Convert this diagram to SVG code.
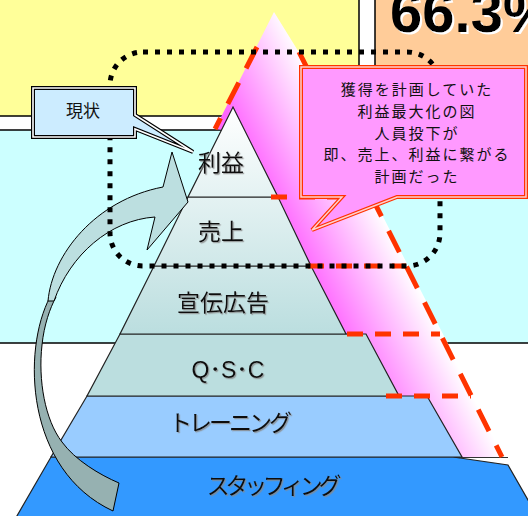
<svg xmlns="http://www.w3.org/2000/svg" width="528" height="516" viewBox="0 0 528 516">
<defs>
<style>
.bg{stroke:#000;stroke-width:1.5}
.layer{stroke:#222;stroke-width:1.2}
.lbl{font-family:"Liberation Sans","Noto Sans CJK JP",sans-serif;font-size:23px;fill:#111;text-anchor:middle;filter:url(#shadow)}
.red{fill:none;stroke:#FF3300;stroke-width:5}
.redh{stroke-dasharray:16 12}
.reds{stroke-dasharray:24 16}
.dots{fill:none;stroke:#000;stroke-width:5;stroke-dasharray:5 7}
.ctext{font-family:"Noto Sans CJK JP",sans-serif;font-size:17px;fill:#111;text-anchor:middle}
.ptext{font-family:"Noto Sans CJK JP",sans-serif;font-size:15px;letter-spacing:2px;fill:#111;text-anchor:middle}
.arrow{stroke:#000;stroke-width:1}
</style>
<linearGradient id="pink" gradientUnits="userSpaceOnUse" x1="170" y1="0" x2="254" y2="-42">
<stop offset="0" stop-color="#FF66FF"/>
<stop offset="1" stop-color="#FFFFFF"/>
</linearGradient>
<linearGradient id="pyr" gradientUnits="userSpaceOnUse" x1="0" y1="107" x2="0" y2="334">
<stop offset="0" stop-color="#FFFFFF"/>
<stop offset="1" stop-color="#BBDEDF"/>
</linearGradient>
<filter id="shadow" x="-10%" y="-20%" width="130%" height="150%">
<feDropShadow dx="1.2" dy="1.2" stdDeviation="0.4" flood-color="#888" flood-opacity="0.8"/>
</filter>
<filter id="wshadow" x="-5%" y="-10%" width="120%" height="130%">
<feDropShadow dx="2" dy="2" stdDeviation="0" flood-color="#FFFFFF"/>
</filter>
</defs>

<g id="background">
<rect x="-2" y="-2" width="361" height="118" fill="#FFFF99" class="bg"/>
<rect x="375" y="-2" width="160" height="125" fill="#FFCC99" class="bg"/>
<text x="390" y="32" font-family="'Liberation Sans',Arial,sans-serif" font-weight="bold" font-size="58" fill="#000" filter="url(#wshadow)">66.3%</text>
<rect x="-2" y="130" width="535" height="213" fill="#CCFFFF" class="bg"/>
</g>

<g id="plan-shape">
<polygon points="274,12 215,129 223,130 268,197 302,266 336,334 390,396 452,457.5 506,457.5 300,54" fill="url(#pink)"/>
<line x1="452" y1="457.5" x2="508" y2="457.5" stroke="#333" stroke-width="1"/>
</g>

<g id="pyramid">
<g id="layer-staffing">
<polygon points="51,457 453,457 508,465 540,521 14,521" fill="#3399FF" class="layer"/>
<text class="lbl" x="272" y="494" letter-spacing="-4.3">スタッフィング</text>
</g>
<g id="layer-training">
<polygon points="87,396 427,396 462,457 51,457" fill="#99CCFF" class="layer"/>
<text class="lbl" x="229" y="431" letter-spacing="-3">トレーニング</text>
</g>
<g id="layer-qsc">
<polygon points="120,334 366,334 399,396 87,396" fill="#BBDEDF" class="layer"/>
<text class="lbl" x="228" y="378">Q･S･C</text>
</g>
<g id="layer-ad">
<polygon points="154,266 311,266 346,334 120,334" fill="url(#pyr)" class="layer"/>
<text class="lbl" x="223" y="311">宣伝広告</text>
</g>
<g id="layer-sales">
<polygon points="188,197 278,197 311,266 154,266" fill="url(#pyr)" class="layer"/>
<text class="lbl" x="221" y="240">売上</text>
</g>
<g id="layer-profit">
<polygon points="233,107 278,197 188,197" fill="url(#pyr)" class="layer"/>
<text class="lbl" x="221" y="171">利益</text>
</g>
</g>

<g id="connectors">
<g id="plan-dashes">
<line class="red reds" x1="257" y1="47" x2="215" y2="129"/>
<line class="red reds" x1="299" y1="52" x2="502" y2="457"/>
<line class="red redh" x1="271" y1="197" x2="372" y2="197"/>
<line class="red redh" x1="308" y1="266" x2="406" y2="266"/>
<line class="red redh" x1="347" y1="334" x2="440" y2="334"/>
<line class="red redh" x1="386" y1="396" x2="471" y2="396"/>
</g>
<g id="curved-arrow">
<path class="arrow" d="M50,297 C22,350 25,470 113,511 L119,483 C100,475 75,460 62,442 C45,420 38,380 42,345 C44,325 50,308 56,297 Z" fill="#96B1B1"/>
<path class="arrow" d="M48,301 C52,255 95,200 163,187 L172,152 L188,202 L147,250 L155,217 C110,220 70,255 54,301 Z" fill="#BCDFE0"/>
</g>
<rect id="current-frame" class="dots" x="110" y="52" width="330" height="214" rx="33"/>
</g>

<g id="callout-current">
<path d="M33,88 H135 V115 L193,152 L135,129 V137 H33 Z" fill="#CCECFF" stroke="#000" stroke-width="4"/>
<path d="M33,88 H135 V115 L193,152 L135,129 V137 H33 Z" fill="none" stroke="#FFFFFF" stroke-width="1.6"/>
<text class="ctext" x="83" y="117">現状</text>
</g>

<g id="callout-plan">
<path d="M301,67 H526 V197 H397 L312,230 L342,197 H301 Z" fill="#FF99FF" stroke="#FF3300" stroke-width="4"/>
<path d="M301,67 H526 V197 H397 L312,230 L342,197 H301 Z" fill="none" stroke="#FFD0D0" stroke-width="1.5"/>
<text class="ptext" x="417" y="95"><tspan x="417" y="95">獲得を計画していた</tspan><tspan x="417" y="117">利益最大化の図</tspan><tspan x="417" y="139">人員投下が</tspan><tspan x="417" y="160">即、売上、利益に繋がる</tspan><tspan x="417" y="182">計画だった</tspan></text>
</g>
</svg>
